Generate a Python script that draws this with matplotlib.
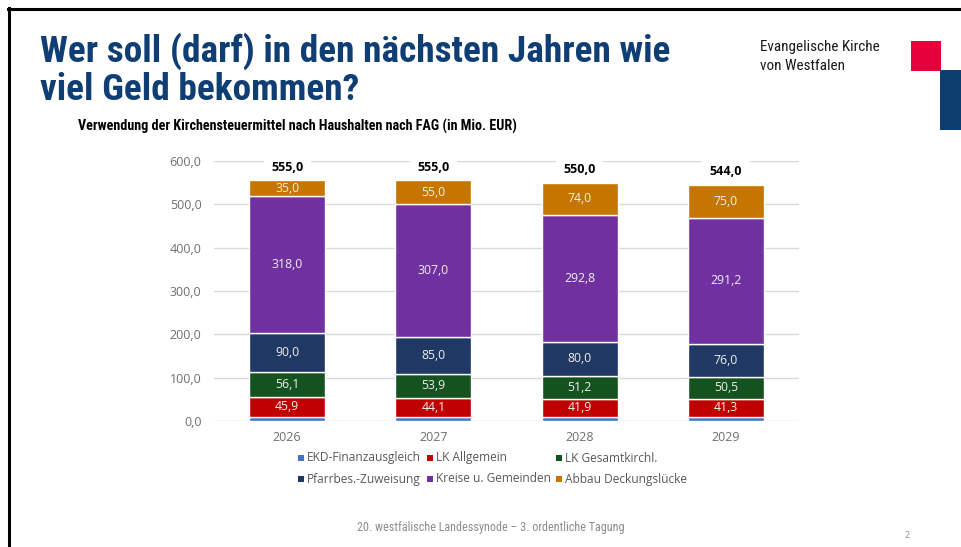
import matplotlib
matplotlib.use("Agg")
import matplotlib.pyplot as plt
from matplotlib.patches import Rectangle
from matplotlib.lines import Line2D
from matplotlib import font_manager
import numpy as np

years = ["2026", "2027", "2028", "2029"]
series_names = ["EKD-Finanzausgleich", "LK Allgemein", "LK Gesamtkirchl.",
                "Pfarrbes.-Zuweisung", "Kreise u. Gemeinden", "Abbau Deckungslücke"]
ekd = [10.0, 10.0, 10.0, 10.0]
lk_allg = [45.9, 44.1, 41.9, 41.3]
lk_gesamt = [56.1, 53.9, 51.2, 50.5]
pfarr = [90.0, 85.0, 80.0, 76.0]
kreise = [318.0, 307.0, 292.8, 291.2]
abbau = [35.0, 55.0, 74.0, 75.0]
totals = [555.0, 555.0, 550.0, 544.0]
colors = ["#4472C4", "#C00000", "#14521F", "#203864", "#7030A0", "#C47600"]
yticks = [0, 100, 200, 300, 400, 500, 600]

series = [ekd, lk_allg, lk_gesamt, pfarr, kreise, abbau]

def fmt(v):
    return f"{v:.1f}".replace(".", ",")

available = {f.name for f in font_manager.fontManager.ttflist}
narrow = None
for cand in ["Liberation Sans Narrow", "Roboto Condensed", "Open Sans Condensed",
             "Noto Sans Condensed", "DejaVu Sans Condensed", "Roboto"]:
    if cand in available:
        narrow = cand
        break
title_font = [narrow, "DejaVu Sans"] if narrow else ["DejaVu Sans"]

plt.rcParams['font.family'] = ['Open Sans', 'DejaVu Sans']
fig = plt.figure(figsize=(9.62, 5.47), dpi=100)
W, H = 962, 547
renderer = fig.canvas.get_renderer()

def fit_text(x0, yb, s, width, size, ha="left", **kw):
    t = fig.text(x0 / W, 1 - yb / H, s, ha=ha, va="baseline", fontsize=size, **kw)
    w = t.get_window_extent(renderer).width
    t.set_fontsize(size * width / w)
    return t

ax = fig.add_axes([214 / W, 1 - 421 / H, 585 / W, 260 / H])
x = np.arange(len(years))
bottom = np.zeros(len(years))
for i, (vals, c) in enumerate(zip(series, colors)):
    vals = np.array(vals)
    ax.bar(x, vals, 0.52, bottom=bottom, color=c, edgecolor="white", linewidth=1.0, zorder=3)
    if i > 0:
        for xi, b, v in zip(x, bottom, vals):
            ax.text(xi, b + v / 2, fmt(v), ha="center", va="center", fontsize=8.8,
                    color="#EFEFEF", zorder=4)
    bottom += vals

for xi, t in zip(x, totals):
    ax.text(xi, t + 31, fmt(t), ha="center", va="center", fontsize=9, fontweight="bold",
            color="#000000", zorder=5, clip_on=False,
            bbox=dict(boxstyle="square,pad=0.6", fc="white", ec="none"))

ax.set_xlim(-0.5, 3.5)
ax.set_ylim(0, 600)
ax.set_yticks(yticks)
ax.set_yticklabels([fmt(v) for v in yticks])
ax.set_xticks(x)
ax.set_xticklabels(years)
ax.tick_params(axis="both", length=0, labelsize=9, labelcolor="#6E6E6E")
ax.tick_params(axis="y", pad=9)
ax.tick_params(axis="x", pad=7)
ax.grid(axis="y", color="#D9D9D9", linewidth=1.0, zorder=0)
for s in ax.spines.values():
    s.set_visible(False)

# legend (manual)
leg_x = [298, 427, 556]
leg_y = [458, 479]
for i, (name, c) in enumerate(zip(series_names, colors)):
    r, col = divmod(i, 3)
    px, py = leg_x[col], leg_y[r]
    fig.add_artist(Rectangle((px / W, 1 - (py + 3) / H), 6 / W, 6 / H,
                             transform=fig.transFigure, fc=c, ec="none"))
    fig.text((px + 9) / W, 1 - py / H, name, ha="left", va="center",
             fontsize=8.6, color="#595959")

# Title area
fit_text(40, 62, "Wer soll (darf) in den nächsten Jahren wie", 628, 20,
         fontweight="bold", color="#0F3E74", family=title_font)
t2 = fig.text(40 / W, 1 - 100 / H, "viel Geld bekommen?", ha="left", va="baseline",
              fontweight="bold", color="#0F3E74", family=title_font)
t2.set_fontsize(fig.texts[-2].get_fontsize())
fit_text(78, 131, "Verwendung der Kirchensteuermittel nach Haushalten nach FAG (in Mio. EUR)",
         441, 9, fontweight="bold", color="#000000", family=title_font)
fit_text(760, 51, "Evangelische Kirche", 120, 9.5, color="#1A1A1A", family=title_font)
t4 = fig.text(760 / W, 1 - 70 / H, "von Westfalen", ha="left", va="baseline",
              color="#1A1A1A", family=title_font)
t4.set_fontsize(fig.texts[-2].get_fontsize())
fit_text(357, 531, "20. westfälische Landessynode – 3. ordentliche Tagung", 267, 7.5,
         color="#8C8C8C", family=title_font)
fig.text(907 / W, 1 - 536 / H, "2", ha="center", va="center", fontsize=6.5, color="#8C8C8C")

# logo blocks
fig.add_artist(Rectangle((911 / W, 1 - 71 / H), 30 / W, 30 / H, transform=fig.transFigure,
                         fc="#E4003A", ec="none"))
fig.add_artist(Rectangle((940 / W, 1 - 130 / H), 22 / W, 60 / H, transform=fig.transFigure,
                         fc="#0E3E70", ec="none"))

# slide border
fig.add_artist(Line2D([8 / W, 1], [1 - 9 / H, 1 - 9 / H], transform=fig.transFigure,
                      color="black", linewidth=2.2))
fig.add_artist(Line2D([9 / W, 9 / W], [0, 1 - 8 / H], transform=fig.transFigure,
                      color="black", linewidth=2.2))

fig.savefig("out.png", dpi=100)
